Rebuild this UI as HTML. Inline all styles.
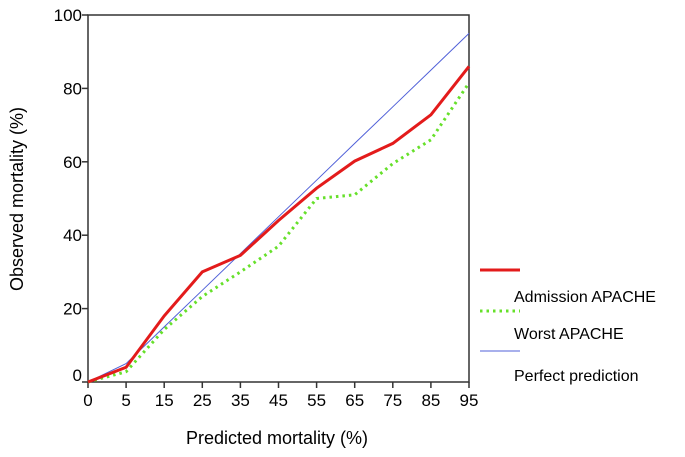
<!DOCTYPE html>
<html><head><meta charset="utf-8"><style>
body{margin:0;background:#fff;}
svg{display:block;font-family:"Liberation Sans",Arial,sans-serif;}
</style></head><body>
<svg id="chart" width="685" height="457" viewBox="0 0 685 457" xmlns="http://www.w3.org/2000/svg">
<g id="plot"></g>
<text transform="translate(23,199) rotate(-90)" text-anchor="middle" font-size="18" fill="#000">Observed mortality (%)</text>
<text x="277" y="444" text-anchor="middle" font-size="18" fill="#000">Predicted mortality (%)</text>
<g>
<line x1="480" y1="270" x2="520" y2="270" stroke="#e31b1b" stroke-width="3"/>
<text x="514" y="302" font-size="16" fill="#000">Admission APACHE</text>
<line x1="480" y1="311" x2="520" y2="311" stroke="#66e02a" stroke-width="3" stroke-dasharray="2.5,4"/>
<text x="514" y="339" font-size="16" fill="#000">Worst APACHE</text>
<line x1="480" y1="351" x2="520" y2="351" stroke="#5060d8" stroke-width="1"/>
<text x="514" y="381" font-size="16" fill="#000">Perfect prediction</text>
</g>
</svg>
<script>
const categories = [0,5,15,25,35,45,55,65,75,85,95];
const admission = [0,4,18,30,34.5,44,52.8,60.2,65,72.8,86];
const worst = [0,2.8,14.3,23.3,30,37,50,51,59.5,66,81.5];
const perfect = [0,5,15,25,35,45,55,65,75,85,95];
const yTicks = [0,20,40,60,80,100];

const NS = 'http://www.w3.org/2000/svg';
const X0 = 88, X1 = 469, Y0 = 382, Y1 = 15;
function xPos(i){ return X0 + i*(X1-X0)/(categories.length-1); }
function yPos(v){ return Y0 - v*(Y0-Y1)/100; }
const plot = document.getElementById('plot');
function mk(tag, attrs){ const e=document.createElementNS(NS,tag); for(const k in attrs) e.setAttribute(k,attrs[k]); plot.appendChild(e); return e; }

const frame = mk('rect',{x:X0,y:Y1,width:X1-X0,height:Y0-Y1,fill:'none',stroke:'#333','stroke-width':1.5});



yTicks.forEach(t=>{
  const tk = mk('line',{x1:X0-6,x2:X0,y1:yPos(t),y2:yPos(t),stroke:'#333','stroke-width':1.5});
  
  
  const lb = mk('text',{x:X0-6,y:yPos(t)+(t===0?-1:6),'text-anchor':'end','font-size':17,fill:'#000'});
  lb.textContent = t;
  
  
});
categories.forEach((c,i)=>{
  const tk = mk('line',{x1:xPos(i),x2:xPos(i),y1:Y0,y2:Y0+6,stroke:'#333','stroke-width':1.5});
  
  
  const lb = mk('text',{x:xPos(i),y:Y0+24,'text-anchor':'middle','font-size':17,fill:'#000'});
  lb.textContent = c;
  
  
});
function line(vals, stroke, w, dash, name){
  const d = vals.map((v,i)=>(i?'L':'M')+xPos(i).toFixed(1)+' '+yPos(v).toFixed(1)).join(' ');
  const p = mk('path',{d:d,fill:'none',stroke:stroke,'stroke-width':w});
  if(dash) p.setAttribute('stroke-dasharray',dash);
  
  
}
line(perfect,'#5060d8',1,null,'perfect-prediction-line');
line(worst,'#66e02a',3,'2.5,4','worst-apache-line');
line(admission,'#e31b1b',3,null,'admission-apache-line');
</script>
</body></html>
